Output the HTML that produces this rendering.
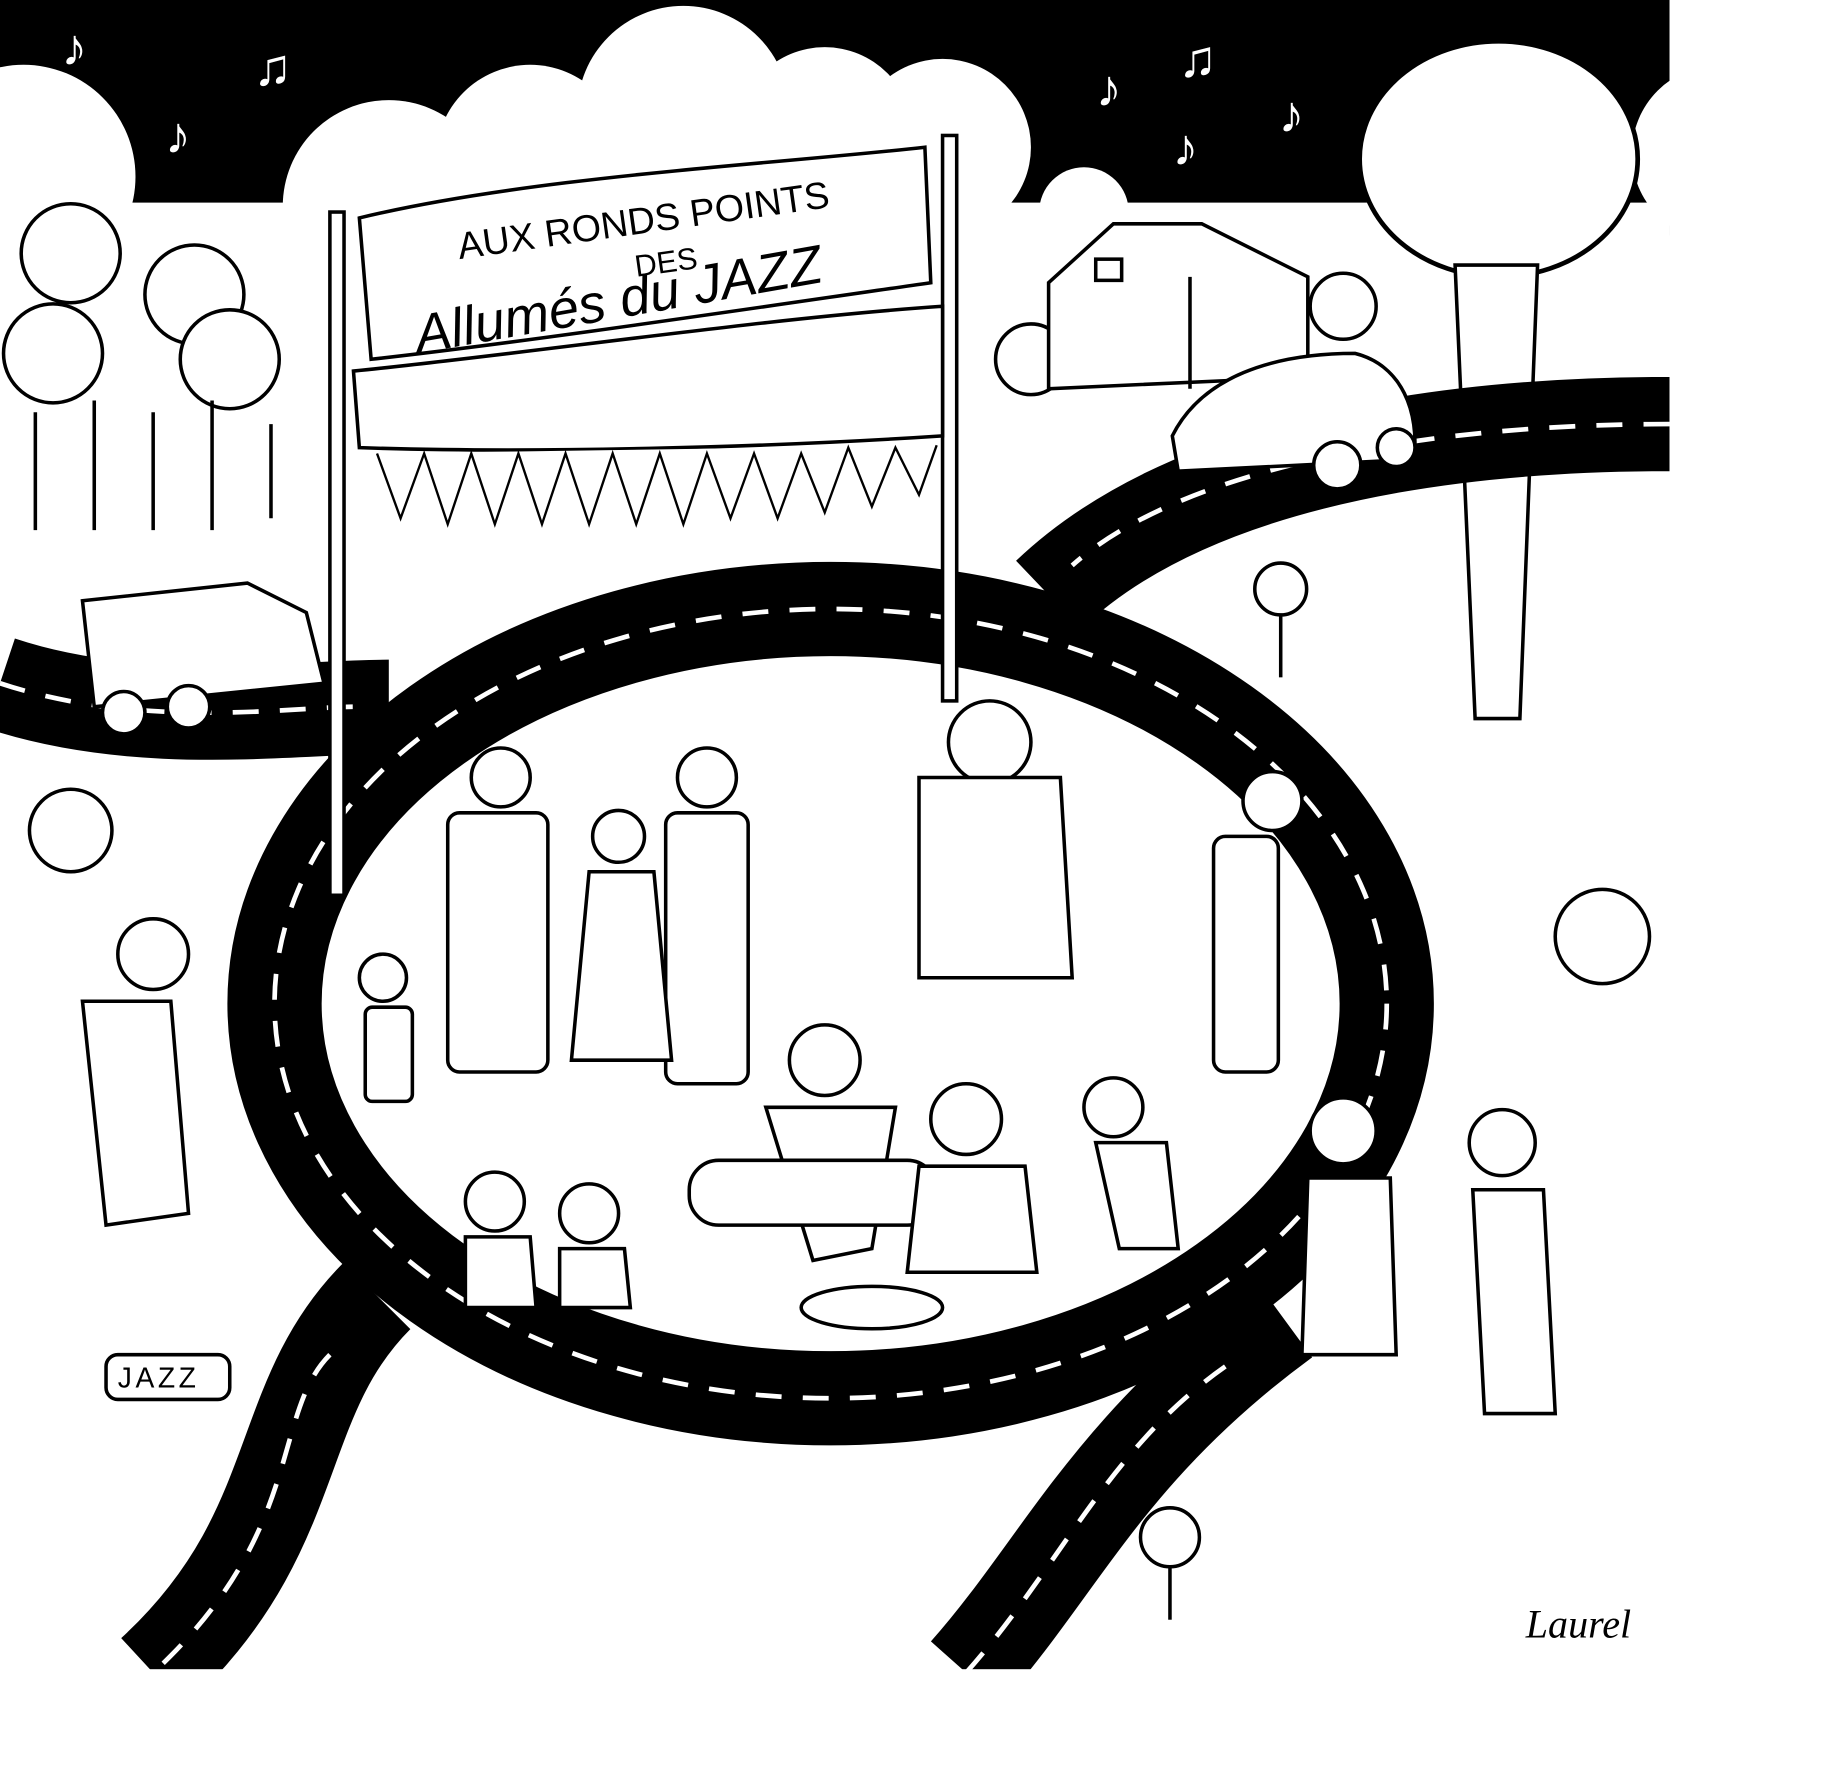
<!DOCTYPE html>
<html><head><meta charset="utf-8"><style>
html,body{margin:0;padding:0;background:#fff;}
svg{display:block}
</style></head><body>
<svg width="1838" height="1787" viewBox="0 0 1560 1517" preserveAspectRatio="none" xmlns="http://www.w3.org/2000/svg">
<rect x="0" y="0" width="1560" height="1517" fill="#fff"/>
<!-- sky -->
<rect x="0" y="0" width="1417" height="200" fill="#000"/>
<g fill="#fff">
<circle cx="20" cy="150" r="95"/>
<circle cx="330" cy="175" r="90"/><circle cx="450" cy="135" r="80"/><circle cx="580" cy="95" r="90"/>
<circle cx="700" cy="115" r="75"/><circle cx="800" cy="125" r="75"/><circle cx="920" cy="180" r="38"/>
<circle cx="1460" cy="130" r="75"/>
<rect x="0" y="172" width="1417" height="40"/>
</g>
<ellipse cx="1272" cy="135" rx="118" ry="100" fill="#fff" stroke="#000" stroke-width="4"/>
<g fill="#fff" font-family="Liberation Sans, sans-serif" font-size="44">
<text x="52" y="55">♪</text><text x="215" y="72">♫</text><text x="140" y="130">♪</text>
<text x="930" y="90">♪</text><text x="1000" y="65">♫</text><text x="995" y="140">♪</text><text x="1085" y="112">♪</text>
</g>
<!-- bushes left -->
<g fill="#fff" stroke="#000" stroke-width="3">
<circle cx="60" cy="215" r="42"/><circle cx="165" cy="250" r="42"/><circle cx="45" cy="300" r="42"/><circle cx="195" cy="305" r="42"/>
<circle cx="60" cy="705" r="35"/><circle cx="1360" cy="795" r="40"/><circle cx="875" cy="305" r="30"/><circle cx="1140" cy="260" r="28"/>
</g>
<g stroke="#000" stroke-width="3">
<line x1="30" y1="350" x2="30" y2="450"/><line x1="80" y1="340" x2="80" y2="450"/><line x1="130" y1="350" x2="130" y2="450"/><line x1="180" y1="340" x2="180" y2="450"/><line x1="230" y1="360" x2="230" y2="440"/>
</g>
<!-- tree trunk -->
<path d="M1235 225 L1252 610 L1290 610 L1305 225 Z" fill="#fff" stroke="#000" stroke-width="3"/>
<!-- house -->
<g fill="#fff" stroke="#000" stroke-width="3">
<path d="M890 240 L945 190 L1020 190 L1110 235 L1110 320 L890 330 Z"/>
<line x1="1010" y1="235" x2="1010" y2="330"/>
<rect x="930" y="220" width="22" height="18"/>
</g>
<!-- roads -->
<g fill="none" stroke="#000" stroke-width="80">
<ellipse cx="705" cy="852" rx="472" ry="335"/>
<path d="M0 580 C120 620 250 600 330 600"/>
<path d="M1417 360 C1200 360 1000 400 890 505"/>
<path d="M320 1100 C230 1190 260 1300 130 1420"/>
<path d="M1090 1120 C940 1230 900 1330 820 1420"/>
</g>
<g fill="none" stroke="#fff" stroke-width="4" stroke-dasharray="22 18">
<ellipse cx="705" cy="852" rx="472" ry="335"/>
<path d="M0 580 C120 620 250 600 300 600"/>
<path d="M1417 360 C1200 360 1000 400 910 480"/>
<path d="M280 1150 C230 1200 260 1300 130 1420"/>
<path d="M1040 1160 C940 1230 900 1330 820 1420"/>
</g>
<rect x="1417" y="200" width="143" height="1317" fill="#fff"/>
<rect x="0" y="1417" width="1560" height="100" fill="#fff"/>
<!-- cars -->
<g fill="#fff" stroke="#000" stroke-width="3">
<path d="M70 510 L210 495 L260 520 L275 580 L80 600 Z"/>
<circle cx="105" cy="605" r="18"/><circle cx="160" cy="600" r="18"/>
<path d="M995 370 C1020 320 1080 300 1150 300 C1190 310 1205 350 1200 390 L1000 400 Z"/>
<circle cx="1135" cy="395" r="20"/><circle cx="1185" cy="380" r="16"/>
</g>
<!-- banner -->
<g stroke="#000" stroke-width="3" fill="#fff">
<rect x="280" y="180" width="12" height="580"/>
<rect x="800" y="115" width="12" height="480"/>
<path d="M305 185 C450 150 650 140 785 125 L790 240 C650 260 450 290 315 305 Z"/>
<path d="M300 315 C450 300 650 270 800 260 L800 370 C650 380 450 385 305 380 Z"/>
</g>
<g fill="#fff" stroke="#000" stroke-width="2">
<path d="M320 385 L340 440 L360 385 L380 445 L400 385 L420 445 L440 385 L460 445 L480 385 L500 445 L520 385 L540 445 L560 385 L580 445 L600 385 L620 440 L640 385 L660 440 L680 385 L700 435 L720 380 L740 430 L760 380 L780 420 L795 378"/>
</g>
<g font-family="Liberation Sans, sans-serif" fill="#000">
<text x="390" y="220" font-size="32" transform="rotate(-8 390 220)">AUX RONDS POINTS</text>
<text x="540" y="235" font-size="26" transform="rotate(-8 540 235)">DES</text>
<text x="355" y="300" font-size="46" font-style="italic" transform="rotate(-10 355 300)">Allumés du JAZZ</text>
</g>
<!-- signs -->
<g fill="#fff" stroke="#000" stroke-width="3">
<circle cx="1087" cy="500" r="22"/><line x1="1087" y1="522" x2="1087" y2="575"/>
<circle cx="993" cy="1305" r="25"/><line x1="993" y1="1330" x2="993" y2="1375"/>
<rect x="90" y="1150" width="105" height="38" rx="10"/>
</g>
<text x="100" y="1178" font-family="Liberation Sans, sans-serif" font-size="24" letter-spacing="3">JAZZ</text>
<text x="1295" y="1390" font-family="Liberation Serif, serif" font-style="italic" font-size="34">Laurel</text>
<!-- people (simplified) -->
<g fill="#fff" stroke="#000" stroke-width="3">
<circle cx="425" cy="660" r="25"/><rect x="380" y="690" width="85" height="220" rx="10"/>
<circle cx="600" cy="660" r="25"/><rect x="565" y="690" width="70" height="230" rx="10"/>
<circle cx="525" cy="710" r="22"/><path d="M500 740 L555 740 L570 900 L485 900 Z"/>
<circle cx="840" cy="630" r="35"/><path d="M780 660 L900 660 L910 830 L780 830 Z"/>
<circle cx="1080" cy="680" r="25"/><rect x="1030" y="710" width="55" height="200" rx="10"/>
<circle cx="325" cy="830" r="20"/><rect x="310" y="855" width="40" height="80" rx="6"/>
<circle cx="130" cy="810" r="30"/><path d="M70 850 L145 850 L160 1030 L90 1040 Z"/>
<circle cx="700" cy="900" r="30"/><path d="M650 940 L760 940 L740 1060 L690 1070 Z"/>
<rect x="585" y="985" width="210" height="55" rx="25"/>
<circle cx="820" cy="950" r="30"/><path d="M780 990 L870 990 L880 1080 L770 1080 Z"/>
<circle cx="945" cy="940" r="25"/><path d="M930 970 L990 970 L1000 1060 L950 1060 Z"/>
<circle cx="420" cy="1020" r="25"/><path d="M395 1050 L450 1050 L455 1110 L395 1110 Z"/>
<circle cx="500" cy="1030" r="25"/><path d="M475 1060 L530 1060 L535 1110 L475 1110 Z"/>
<circle cx="1140" cy="960" r="28"/><path d="M1110 1000 L1180 1000 L1185 1150 L1105 1150 Z"/>
<circle cx="1275" cy="970" r="28"/><path d="M1250 1010 L1310 1010 L1320 1200 L1260 1200 Z"/>
<ellipse cx="740" cy="1110" rx="60" ry="18"/>
</g>
</svg>
</body></html>
